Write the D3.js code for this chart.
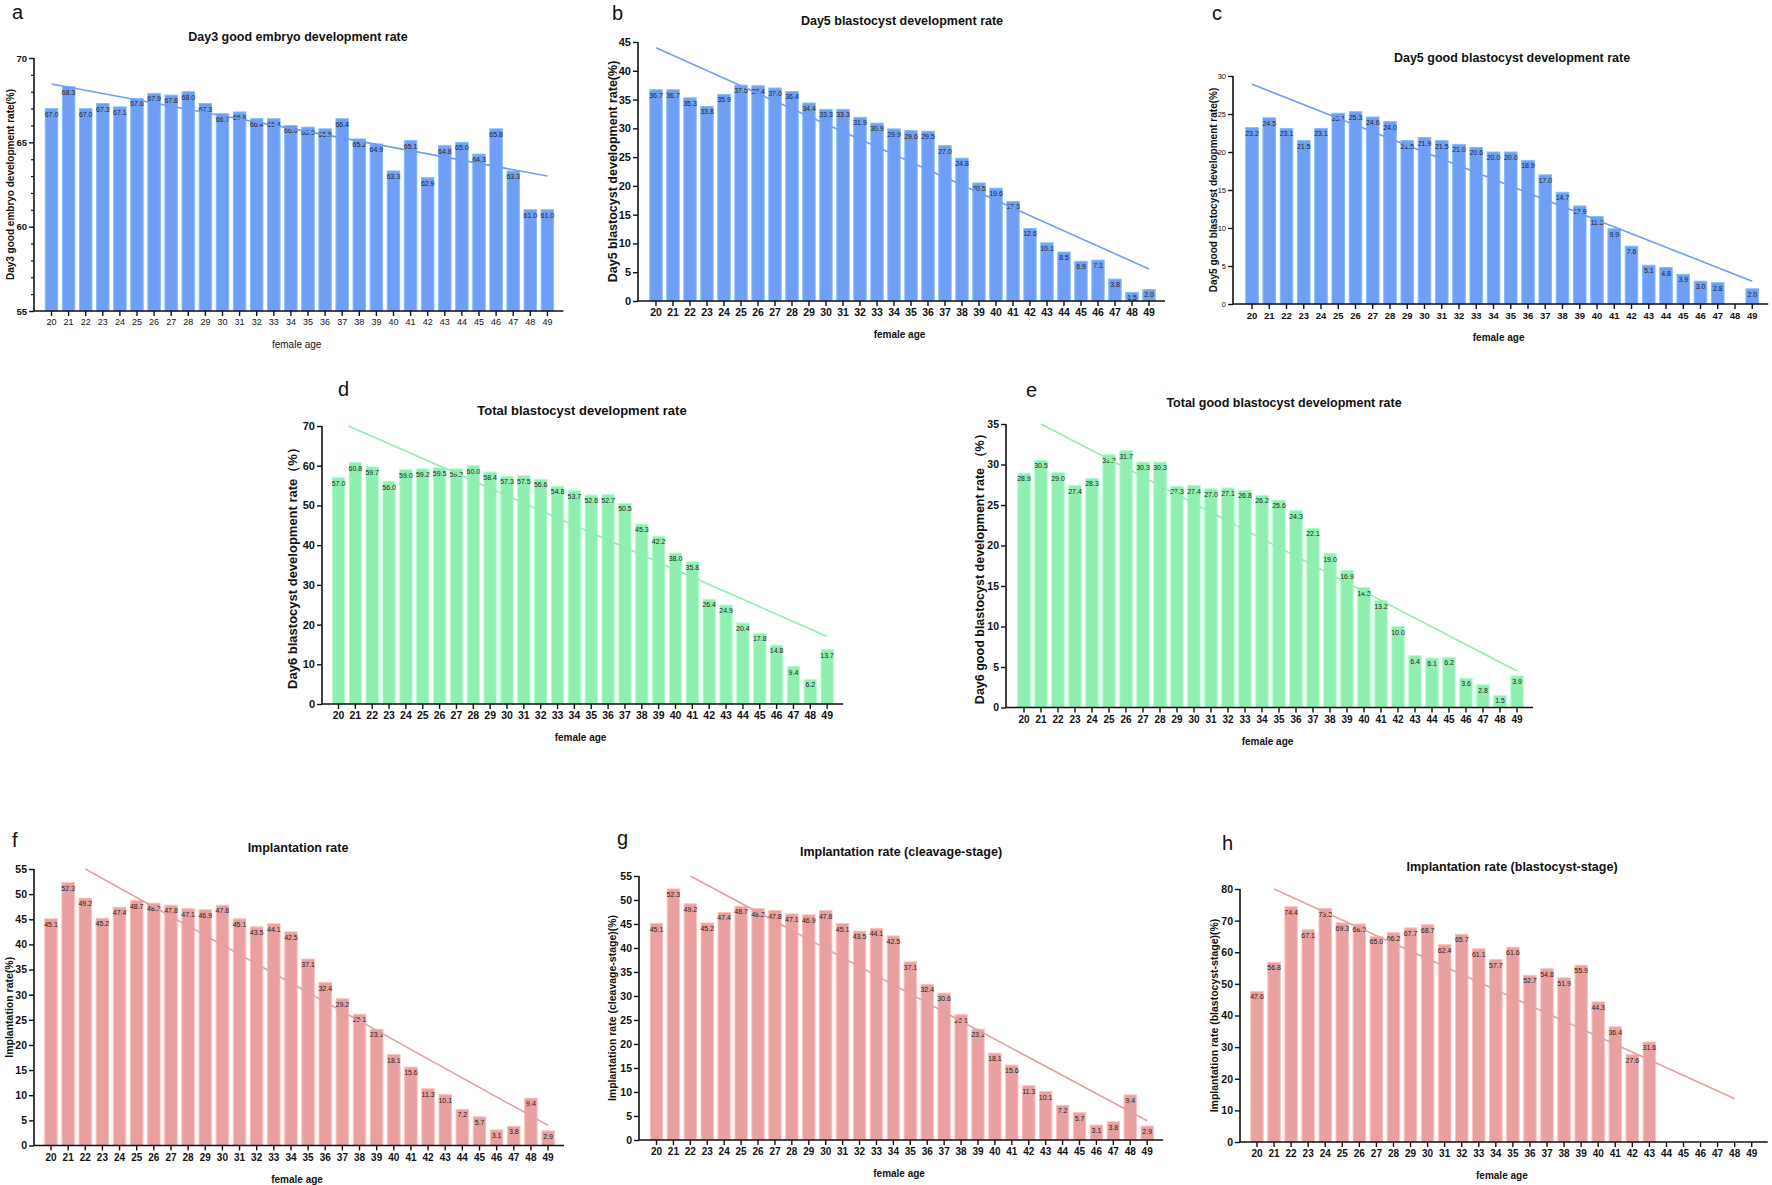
<!DOCTYPE html>
<html>
<head>
<meta charset="utf-8">
<script src="https://cdn.jsdelivr.net/npm/d3@7"></script>
<style>
  body { margin: 0; background: #fff; }
  svg { font-family: "Liberation Sans", Arial, sans-serif; }
</style>
</head>
<body>
<div id="chart"></div>
<script>
// categories
const ages = [20,21,22,23,24,25,26,27,28,29,30,31,32,33,34,35,36,37,38,39,40,41,42,43,44,45,46,47,48,49];

// series values (null = no bar)
const day3Good = [67.0,68.3,67.0,67.3,67.1,67.6,67.9,67.8,68.0,67.3,66.7,66.8,66.4,66.4,66.0,65.9,65.8,66.4,65.2,64.9,63.3,65.1,62.9,64.8,65.0,64.3,65.8,63.3,61.0,61.0];
const day5Blast = [36.7,36.7,35.3,33.8,35.9,37.5,37.4,37.0,36.4,34.4,33.3,33.3,31.9,30.9,29.9,29.6,29.5,27.0,24.8,20.5,19.6,17.3,12.6,10.1,8.5,6.9,7.1,3.8,1.5,2.0];
const day5Good = [23.2,24.5,23.1,21.5,23.1,25.1,25.3,24.6,24.0,21.5,21.9,21.5,21.0,20.6,20.0,20.0,18.9,17.0,14.7,12.9,11.5,9.9,7.6,5.1,4.8,3.9,3.0,2.8,null,2.0];
const totalBlast = [57.0,60.8,59.7,56.0,59.0,59.2,59.5,59.2,60.0,58.4,57.3,57.5,56.6,54.8,53.7,52.6,52.7,50.5,45.3,42.2,38.0,35.8,26.4,24.9,20.4,17.8,14.8,9.4,6.2,13.7];
const totalGood = [28.9,30.5,29.0,27.4,28.3,31.2,31.7,30.3,30.3,27.3,27.4,27.0,27.1,26.8,26.2,25.6,24.3,22.1,19.0,16.9,14.8,13.2,10.0,6.4,6.1,6.2,3.6,2.8,1.5,3.9];
const implant = [45.1,52.3,49.2,45.2,47.4,48.7,48.2,47.8,47.1,46.9,47.8,45.1,43.5,44.1,42.5,37.1,32.4,29.2,26.1,23.1,18.1,15.6,11.3,10.1,7.2,5.7,3.1,3.8,9.4,2.9];
const implantCleavage = [45.1,52.3,49.2,45.2,47.4,48.7,48.2,47.8,47.1,46.9,47.8,45.1,43.5,44.1,42.5,37.1,32.4,30.6,26.1,23.1,18.1,15.6,11.3,10.1,7.2,5.7,3.1,3.8,9.4,2.9];
const implantBlast = [47.6,56.8,74.4,67.1,73.8,69.3,68.9,65.0,66.2,67.7,68.7,62.4,65.7,61.1,57.7,61.6,52.7,54.8,51.9,55.9,44.3,36.4,27.6,31.6,null,null,null,null,null,null];

// trend line end points [age, value]
const trendA = [[20, 68.46], [49, 63.0]];
const trendB = [[20, 44.0], [49, 5.56]];
const trendC = [[20, 28.9], [49, 3.0]];
const trendD = [[20.6, 70.0], [49, 17.0]];
const trendE = [[21, 35.0], [49, 4.5]];
const trendF = [[22, 55.0], [49, 4.0]];
const trendG = [[22, 55.0], [49, 4.0]];
const trendH = [[21, 80.0], [48, 13.7]];

// y-axis domains and tick steps
const domainA = [55, 70], domainB = [0, 45], domainC = [0, 30], domainD = [0, 70];
const domainE = [0, 35], domainF = [0, 55], domainG = [0, 55], domainH = [0, 80];

const titles = {
  a: "Day3 good embryo development rate",
  b: "Day5 blastocyst development rate",
  c: "Day5 good blastocyst development rate",
  d: "Total blastocyst development rate",
  e: "Total good blastocyst development rate",
  f: "Implantation rate",
  g: "Implantation rate (cleavage-stage)",
  h: "Implantation rate (blastocyst-stage)"
};
const yTitles = {
  a: "Day3 good embryo development rate(%)",
  b: "Day5 blastocyst development rate(%)",
  c: "Day5 good blastocyst development rate(%)",
  d: "Day6 blastocyst development rate（%）",
  e: "Day6 good blastocyst development rate （%）",
  f: "Implantation rate(%)",
  g: "Implantation rate (cleavage-stage)(%)",
  h: "Implantation rate (blastocyst-stage)(%)"
};
const xTitle = "female age";

const blue = "#6f9ef5", green = "#90efb0", pink = "#e8a0a0";

// layout of each panel in page pixels
const panels = [
  {id:"a", values:day3Good, trend:trendA, domain:domainA, step:5, minor:1, color:blue,
   axisX:34, c20:51.5, bstep:17.1, yTop:58, yBot:311, titleX:298, titleY:41, letterX:12, letterY:19,
   yTitleX:10, yTitleSize:10, tickSize:9.5, xTickSize:9, tickBold:true, xBold:false, xTitleBold:false, titleSize:12.5},
  {id:"b", values:day5Blast, trend:trendB, domain:domainB, step:5, color:blue,
   axisX:638, c20:656, bstep:17.0, yTop:42, yBot:301, titleX:902, titleY:25, letterX:612, letterY:20,
   yTitleX:613, yTitleSize:12.5, tickSize:11, xTickSize:10.5, tickBold:true, xBold:true, xTitleBold:true, titleSize:12.5},
  {id:"c", values:day5Good, trend:trendC, domain:domainC, step:5, color:blue,
   axisX:1233, c20:1252, bstep:17.25, yTop:76, yBot:304, titleX:1512, titleY:62, letterX:1212, letterY:20,
   yTitleX:1213, yTitleSize:10, tickSize:7.5, xTickSize:9.5, tickBold:false, xBold:true, xTitleBold:true, titleSize:12.5},
  {id:"d", values:totalBlast, trend:trendD, domain:domainD, step:10, color:green,
   axisX:322, c20:338.5, bstep:16.85, yTop:426, yBot:704, titleX:582, titleY:415, letterX:338, letterY:396,
   yTitleX:292, yTitleSize:13, tickSize:11, xTickSize:10.5, tickBold:true, xBold:true, xTitleBold:true, titleSize:13},
  {id:"e", values:totalGood, trend:trendE, domain:domainE, step:5, color:green,
   axisX:1006, c20:1024, bstep:17.0, yTop:424, yBot:707.5, titleX:1284, titleY:407, letterX:1026, letterY:397,
   yTitleX:980, yTitleSize:12.5, tickSize:10.5, xTickSize:10, tickBold:true, xBold:true, xTitleBold:true, titleSize:12.5},
  {id:"f", values:implant, trend:trendF, domain:domainF, step:5, color:pink,
   axisX:34, c20:51, bstep:17.14, yTop:869, yBot:1145.5, titleX:298, titleY:852, letterX:12, letterY:847,
   yTitleX:9, yTitleSize:10.5, tickSize:10.5, xTickSize:10, tickBold:true, xBold:true, xTitleBold:true, titleSize:12.5},
  {id:"g", values:implantCleavage, trend:trendG, domain:domainG, step:5, color:pink,
   axisX:639, c20:656.5, bstep:16.92, yTop:876, yBot:1140, titleX:901, titleY:856, letterX:617, letterY:845,
   yTitleX:612, yTitleSize:10.5, tickSize:10.5, xTickSize:10, tickBold:true, xBold:true, xTitleBold:true, titleSize:12.5},
  {id:"h", values:implantBlast, trend:trendH, domain:domainH, step:10, color:pink,
   axisX:1240, c20:1257, bstep:17.06, yTop:889, yBot:1142, titleX:1512, titleY:871, letterX:1222, letterY:850,
   yTitleX:1214, yTitleSize:10.5, tickSize:10.5, xTickSize:10, tickBold:true, xBold:true, xTitleBold:true, titleSize:12.5}
];

const width = 1772, height = 1185;
const svg = d3.select("#chart").append("svg")
  .attr("width", width).attr("height", height)
  .attr("viewBox", `0 0 ${width} ${height}`);

panels.forEach(p => {
  const g = svg.append("g").attr("class", "panel-" + p.id);

  // band scale so that each band is centred on the measured bar centres
  const x = d3.scaleBand()
    .domain(ages)
    .range([p.c20 - p.bstep / 2, p.c20 + p.bstep * (ages.length - 0.5)])
    .paddingInner(0.27)
    .paddingOuter(0.135);
  const xc = a => x(a) + x.bandwidth() / 2;
  // continuous version for the trend line
  const xLin = d3.scaleLinear().domain([20, 49]).range([xc(20), xc(49)]);

  const y = d3.scaleLinear().domain(p.domain).range([p.yBot, p.yTop]);

  const rows = ages.map((a, i) => ({age: a, value: p.values[i]})).filter(d => d.value != null);

  // bars
  g.selectAll("rect.bar")
    .data(rows)
    .join("rect")
      .attr("class", "bar")
      .attr("x", d => x(d.age))
      .attr("width", x.bandwidth())
      .attr("y", d => y(d.value))
      .attr("height", d => y(p.domain[0]) - y(d.value))
      .attr("fill", p.color)
      .attr("stroke", d3.color(p.color).brighter(0.5))
      .attr("stroke-width", 1);

  // bar value labels
  g.selectAll("text.val")
    .data(rows)
    .join("text")
      .attr("class", "val")
      .attr("x", d => xc(d.age))
      .attr("y", d => y(d.value) + 8)
      .attr("text-anchor", "middle")
      .style("font-size", "7px")
      .attr("fill", "#222")
      .text(d => d3.format(".1f")(d.value));

  // trend line
  g.append("line")
    .attr("x1", xLin(p.trend[0][0])).attr("y1", y(p.trend[0][1]))
    .attr("x2", xLin(p.trend[1][0])).attr("y2", y(p.trend[1][1]))
    .attr("stroke", p.color)
    .attr("stroke-width", 1.6);

  // y axis
  const yAxis = d3.axisLeft(y)
    .tickValues(d3.range(p.domain[0], p.domain[1] + 0.001, p.step))
    .tickSize(5).tickSizeOuter(0).tickPadding(2);
  const ya = g.append("g")
    .attr("transform", `translate(${p.axisX},0)`)
    .call(yAxis);
  ya.select(".domain").attr("stroke", "#111").attr("stroke-width", 1.6)
    .attr("d", `M0,${p.yTop}V${p.yBot}`);
  ya.selectAll(".tick line").attr("stroke", "#111").attr("stroke-width", 1.4);
  ya.selectAll(".tick text")
    .attr("fill", "#111")
    .style("font-size", p.tickSize + "px")
    .style("font-weight", p.tickBold ? "bold" : "normal");

  if (p.minor) {
    const minorAxis = d3.axisLeft(y)
      .tickValues(d3.range(p.domain[0], p.domain[1], p.minor).filter(v => (v - p.domain[0]) % p.step !== 0))
      .tickSize(3).tickFormat("");
    const ma = g.append("g").attr("transform", `translate(${p.axisX},0)`).call(minorAxis);
    ma.select(".domain").remove();
    ma.selectAll(".tick line").attr("stroke", "#111").attr("stroke-width", 1.2);
  }

  // x axis
  const xAxis = d3.axisBottom(x).tickSize(5).tickSizeOuter(0).tickPadding(3);
  const xa = g.append("g")
    .attr("transform", `translate(0,${p.yBot})`)
    .call(xAxis);
  xa.select(".domain").attr("stroke", "#111").attr("stroke-width", 1.6)
    .attr("d", `M${p.axisX},0H${xc(49) + 16}`);
  xa.selectAll(".tick line").attr("stroke", "#111").attr("stroke-width", 1.4);
  xa.selectAll(".tick text")
    .attr("fill", "#111")
    .style("font-size", p.xTickSize + "px")
    .style("font-weight", p.xBold ? "bold" : "normal");

  // x title
  g.append("text")
    .attr("x", (p.axisX + xc(49)) / 2 + 6)
    .attr("y", p.yBot + 37)
    .attr("text-anchor", "middle")
    .style("font-size", "10px")
    .style("font-weight", p.xTitleBold ? "bold" : "normal")
    .attr("fill", "#111")
    .text(xTitle);

  // y title
  g.append("text")
    .attr("transform", `translate(${p.yTitleX + p.yTitleSize * 0.35},${(p.yTop + p.yBot) / 2}) rotate(-90)`)
    .attr("text-anchor", "middle")
    .style("font-size", p.yTitleSize + "px")
    .style("font-weight", "bold")
    .attr("fill", "#111")
    .text(yTitles[p.id]);

  // chart title
  g.append("text")
    .attr("x", p.titleX)
    .attr("y", p.titleY)
    .attr("text-anchor", "middle")
    .style("font-size", p.titleSize + "px")
    .style("font-weight", "bold")
    .attr("fill", "#111")
    .text(titles[p.id]);

  // panel letter
  g.append("text")
    .attr("x", p.letterX)
    .attr("y", p.letterY)
    .style("font-size", "20px")
    .attr("fill", "#111")
    .text(p.id);
});
</script>
</body>
</html>
